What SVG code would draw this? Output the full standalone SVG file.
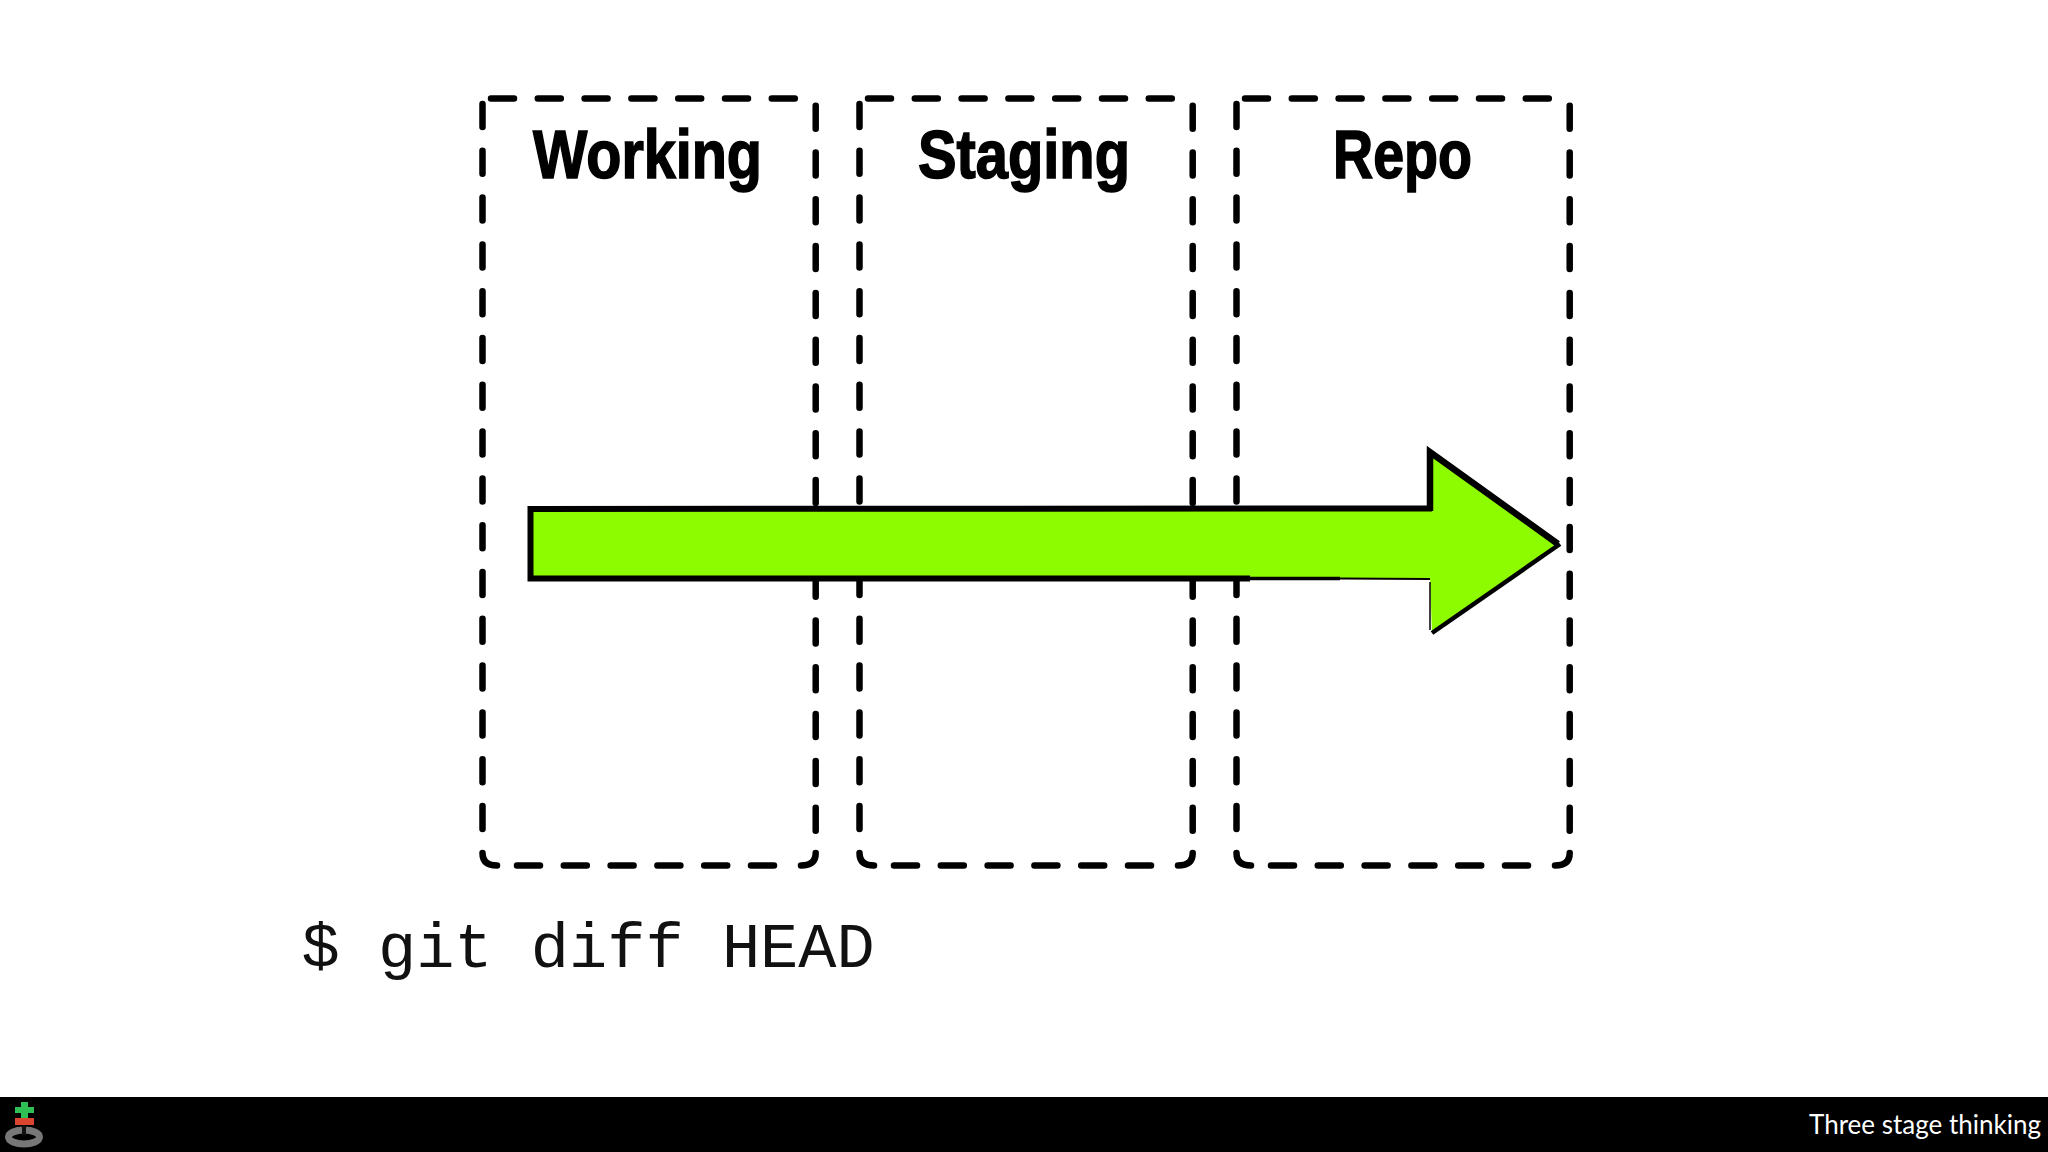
<svg xmlns="http://www.w3.org/2000/svg" width="2048" height="1152" viewBox="0 0 2048 1152">
<style>
.box{fill:none;stroke:#000;stroke-width:6.500;stroke-linecap:round;stroke-dasharray:23 23.8}
.corner{fill:none;stroke:#000;stroke-width:6.500;stroke-linecap:round}
.title{font-family:"Liberation Sans",Arial,sans-serif;font-weight:700;font-size:69px;fill:#000;stroke:#000;stroke-width:1.600;text-anchor:start}
.edge{fill:none;stroke:#000;stroke-linejoin:miter;stroke-linecap:butt}
</style>
<rect width="2048" height="1152" fill="#fff"/>
<g id="working">
<path class="box" d="M491 98.500H800M815.700 105.700V846M482.500 104V846M517 865.500H790"/>
<path class="corner" d="M482.500 853Q482.500 865.500 497 865.500M815.700 853Q815.700 865.500 801 865.500"/>
<text class="title" x="533" y="178" textLength="229" lengthAdjust="spacingAndGlyphs">Working</text>
</g>
<g id="staging">
<path class="box" d="M868 98.500H1177M1192.700 105.700V846M859.500 104V846M894 865.500H1167"/>
<path class="corner" d="M859.500 853Q859.500 865.500 874 865.500M1192.700 853Q1192.700 865.500 1178 865.500"/>
<text class="title" x="918" y="178" textLength="212" lengthAdjust="spacingAndGlyphs">Staging</text>
</g>
<g id="repo">
<path class="box" d="M1245 98.500H1554M1569.700 105.700V846M1236.500 104V846M1271 865.500H1544"/>
<path class="corner" d="M1236.500 853Q1236.500 865.500 1251 865.500M1569.700 853Q1569.700 865.500 1555 865.500"/>
<text class="title" x="1333" y="178" textLength="139" lengthAdjust="spacingAndGlyphs">Repo</text>
</g>
<g id="connectors">
<g id="arrow">
<polygon points="530,509 1430,508 1430,450 1558,544 1432,633 1430,578 530,578" fill="#8efc00"/>
<path class="edge" stroke-width="6" d="M1432 508.500L530.500 509V578.500L1250 578.500"/>
<path class="edge" stroke-width="3.500" d="M1250 578.500L1340 578.500"/>
<path class="edge" stroke-width="1.800" d="M1340 578.500L1430 579"/>
<path class="edge" stroke-width="6.500" d="M1430 511V452L1558 544"/>
<path class="edge" stroke-width="1.500" stroke="#444" d="M1430 582V630"/>
<path class="edge" stroke-width="4.500" d="M1432 633L1560 544"/>
</g>
</g>
<text id="command" x="301.500" y="967" font-family="'Liberation Mono','Courier New',monospace" font-size="63.700" fill="#111">$ git diff HEAD</text>
<g id="footer">
<rect x="0" y="1097" width="2048" height="55" fill="#000"/>
<g id="logo">
<ellipse cx="24" cy="1137" rx="15.500" ry="7" fill="none" stroke="#777" stroke-width="7"/>
<rect x="22" y="1125" width="4" height="10" fill="#111"/>
<path d="M21 1102H28V1107H34V1113H28V1118H21V1113H15V1107H21Z" fill="#2fbf55"/>
<rect x="15" y="1118" width="19" height="7" fill="#d9452f"/>
</g>
<text x="1809" y="1134" font-family="Lato,'Noto Sans',sans-serif" font-size="27" fill="#fff" textLength="232" lengthAdjust="spacingAndGlyphs">Three stage thinking</text>
</g>
</svg>
